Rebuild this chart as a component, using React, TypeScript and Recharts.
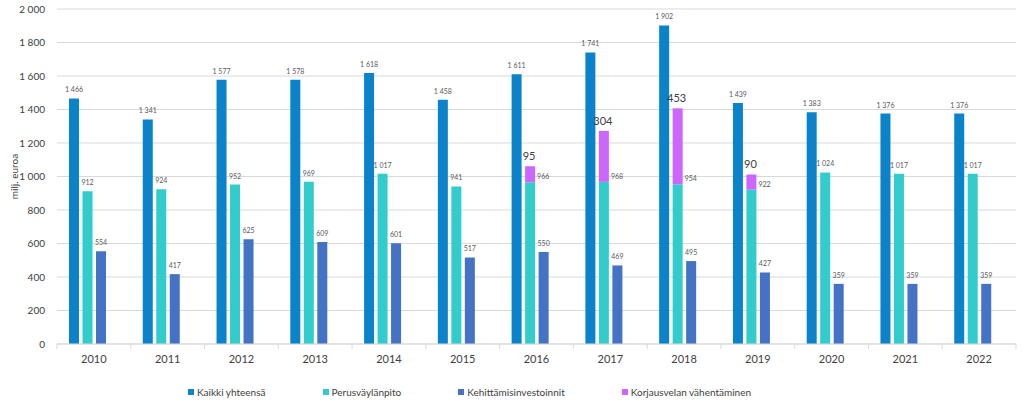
import React from 'react';
import { BarChart, Bar, XAxis, YAxis, CartesianGrid, Legend, LabelList } from 'recharts';

const years = ['2010','2011','2012','2013','2014','2015','2016','2017','2018','2019','2020','2021','2022'];
const kaikki = [1466,1341,1577,1578,1618,1458,1611,1741,1902,1439,1383,1376,1376];
const perus = [912,924,952,969,1017,941,966,968,954,922,1024,1017,1017];
const kehitt = [554,417,625,609,601,517,550,469,495,427,359,359,359];
const korjaus: (number|null)[] = [null,null,null,null,null,null,95,304,453,90,null,null,null];
const yTicks = [0,200,400,600,800,1000,1200,1400,1600,1800,2000];

const C_KAIKKI = '#0A83CB';
const C_PERUS = '#33CCCC';
const C_KEHITT = '#4472C4';
const C_KORJAUS = '#CC66FF';

const legendItems = [
  { name: 'Kaikki yhteensä', color: C_KAIKKI },
  { name: 'Perusväylänpito', color: C_PERUS },
  { name: 'Kehittämisinvestoinnit', color: C_KEHITT },
  { name: 'Korjausvelan vähentäminen', color: C_KORJAUS },
];

const data = years.map((y, i) => ({
  year: y,
  kaikki: kaikki[i],
  perus: perus[i],
  kehitt: kehitt[i],
  korjaus: korjaus[i],
  dummy: null,
}));

const FONT = 'Lato, "Open Sans", sans-serif';
const fmt = (v: number) => {
  const s = String(Math.round(v));
  return s.replace(/\B(?=(\d{3})+(?!\d))/g, ' ');
};

const SmallLabel = (props: any) => {
  const { x, y, width, value } = props;
  if (value == null) return null;
  return (
    <text x={x + width / 2} y={y - 6} textAnchor="middle" fontSize={7} fill="#595959" fontFamily={FONT}>
      {fmt(value)}
    </text>
  );
};

const PerusLabel = (props: any) => {
  const { x, y, width, value, index } = props;
  if (value == null) return null;
  if (korjaus[index] != null) {
    return (
      <text x={x + width + 2} y={y - 3} textAnchor="start" fontSize={7} fill="#595959" fontFamily={FONT}>
        {fmt(value)}
      </text>
    );
  }
  return (
    <text x={x + width / 2} y={y - 6} textAnchor="middle" fontSize={7} fill="#595959" fontFamily={FONT}>
      {fmt(value)}
    </text>
  );
};

const KorjausLabel = (props: any) => {
  const { x, y, width, value } = props;
  if (value == null) return null;
  return (
    <text x={x + width / 2 - 1} y={y - 6} textAnchor="middle" fontSize={11} fill="#404040" fontFamily={FONT}>
      {fmt(value)}
    </text>
  );
};

const XTick = (props: any) => {
  const { x, y, payload } = props;
  const band = (1016 - 57) / years.length;
  return (
    <g>
      <line x1={x - band / 2} x2={x - band / 2} y1={y - 8} y2={y - 3} stroke="#D9D9D9" />
      {payload.index === years.length - 1 && (
        <line x1={x + band / 2} x2={x + band / 2} y1={y - 8} y2={y - 3} stroke="#D9D9D9" />
      )}
      <text x={x} y={y + 11} textAnchor="middle" fontSize={11} fill="#404040" fontFamily={FONT}>
        {payload.value}
      </text>
    </g>
  );
};

const LegendContent = () => (
  <div style={{ display: 'flex', gap: 57, paddingLeft: 188, fontFamily: FONT, fontSize: 10, color: '#404040' }}>
    {legendItems.map((it) => (
      <div key={it.name} style={{ display: 'flex', alignItems: 'center' }}>
        <span style={{ display: 'inline-block', width: 6, height: 6, background: it.color, marginRight: 3 }} />
        <span>{it.name}</span>
      </div>
    ))}
  </div>
);

export default function App() {
  return (
    <div style={{ position: 'absolute', left: 0, top: 0, width: 1024, height: 413, background: '#fff' }}>
      <BarChart
        width={1024}
        height={413}
        data={data}
        margin={{ top: 9, right: 8, left: 0, bottom: 25 }}
        barSize={10}
        barGap={3.5}
      >
        <CartesianGrid vertical={false} stroke="#D9D9D9" />
        <XAxis
          dataKey="year"
          axisLine={{ stroke: '#D9D9D9' }}
          tickLine={false}
          height={30}
          tick={<XTick />}
          interval={0}
        />
        <YAxis
          width={57}
          domain={[0, 2000]}
          ticks={yTicks}
          interval={0}
          axisLine={false}
          tickLine={false}
          tickMargin={6}
          tickFormatter={fmt}
          tick={{ fontSize: 10, fill: '#404040', fontFamily: FONT }}
          label={{
            content: (p: any) => {
              const vb = p.viewBox;
              const cx = vb.x + 15;
              const cy = vb.y + vb.height / 2;
              return (
                <text x={cx} y={cy} transform={`rotate(-90 ${cx} ${cy})`} textAnchor="middle" dominantBaseline="middle" fontSize={10} fill="#404040" fontFamily={FONT}>
                  milj. euroa
                </text>
              );
            },
          }}
        />
        <Legend
          verticalAlign="bottom"
          content={<LegendContent />}
          wrapperStyle={{ position: 'absolute', top: 386, left: 0, width: 1024, height: 14 }}
        />
        <Bar dataKey="kaikki" name="Kaikki yhteensä" stackId="k" fill={C_KAIKKI} isAnimationActive={false}>
          <LabelList dataKey="kaikki" content={<SmallLabel />} />
        </Bar>
        <Bar dataKey="perus" name="Perusväylänpito" stackId="a" fill={C_PERUS} isAnimationActive={false}>
          <LabelList dataKey="perus" content={<PerusLabel />} />
        </Bar>
        <Bar dataKey="korjaus" name="Korjausvelan vähentäminen" stackId="a" fill={C_KORJAUS} isAnimationActive={false}>
          <LabelList dataKey="korjaus" content={<KorjausLabel />} />
        </Bar>
        <Bar dataKey="kehitt" name="Kehittämisinvestoinnit" stackId="h" fill={C_KEHITT} isAnimationActive={false}>
          <LabelList dataKey="kehitt" content={<SmallLabel />} />
        </Bar>
        <Bar dataKey="dummy" stackId="d" legendType="none" fill="transparent" isAnimationActive={false} />
      </BarChart>
    </div>
  );
}
